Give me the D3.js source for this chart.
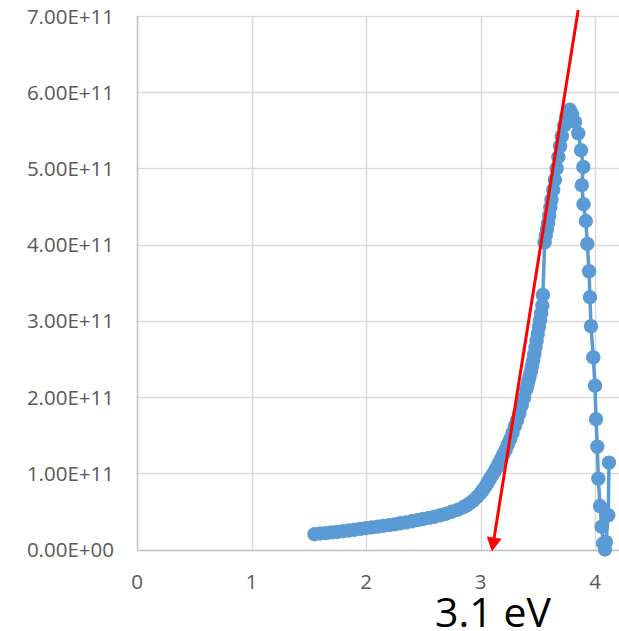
<!DOCTYPE html>
<html>
<head>
<meta charset="utf-8">
<script src="https://cdn.jsdelivr.net/npm/d3@7"></script>
<style>
  html, body { margin: 0; padding: 0; background: #fff; }
  svg { display: block; }
</style>
</head>
<body>
<svg id="chart" width="619" height="631"></svg>
<script>
// Photon energy (eV) and intensity (x 1e11) of the measured spectrum
const energy = [
  1.55, 1.60, 1.65, 1.70, 1.75, 1.80, 1.85, 1.90, 1.95, 2.00,
  2.05, 2.10, 2.15, 2.20, 2.25, 2.30, 2.35, 2.40, 2.45, 2.50,
  2.55, 2.60, 2.65, 2.70, 2.75, 2.80, 2.85, 2.88, 2.91, 2.94,
  2.97, 3.00, 3.02, 3.04, 3.06, 3.08, 3.10, 3.12, 3.14, 3.16,
  3.18, 3.20, 3.22, 3.24, 3.26, 3.28, 3.30, 3.32, 3.34, 3.36,
  3.38, 3.40, 3.41, 3.42, 3.43, 3.44, 3.45, 3.46, 3.47, 3.48,
  3.49, 3.50, 3.51, 3.52, 3.53, 3.54, 3.545,
  3.56, 3.57, 3.58, 3.59, 3.60, 3.61, 3.62, 3.635, 3.65, 3.665,
  3.68, 3.695, 3.71, 3.73, 3.75, 3.765, 3.78,
  3.80, 3.825, 3.854, 3.878, 3.898, 3.885, 3.90, 3.92, 3.933, 3.948,
  3.956, 3.965, 3.985, 4.00, 4.009, 4.02, 4.029, 4.044, 4.058, 4.072,
  4.087, 4.095, 4.116, 4.122
];
const intensity = [
  0.20, 0.21, 0.215, 0.225, 0.23, 0.24, 0.25, 0.26, 0.27, 0.28,
  0.29, 0.30, 0.31, 0.32, 0.33, 0.345, 0.355, 0.37, 0.385, 0.40,
  0.415, 0.43, 0.45, 0.47, 0.495, 0.52, 0.555, 0.58, 0.61, 0.645,
  0.69, 0.74, 0.78, 0.82, 0.87, 0.92, 0.97, 1.02, 1.07, 1.13,
  1.19, 1.25, 1.31, 1.38, 1.45, 1.53, 1.62, 1.70, 1.79, 1.89,
  1.99, 2.10, 2.16, 2.22, 2.28, 2.34, 2.41, 2.48, 2.56, 2.65,
  2.74, 2.83, 2.92, 3.01, 3.10, 3.20, 3.34,
  4.03, 4.12, 4.20, 4.28, 4.38, 4.49, 4.59, 4.72, 4.85, 5.00,
  5.15, 5.29, 5.42, 5.56, 5.68, 5.74, 5.77,
  5.71, 5.61, 5.46, 5.24, 5.02, 4.78, 4.53, 4.31, 4.01, 3.65,
  3.31, 2.93, 2.52, 2.15, 1.71, 1.35, 0.93, 0.57, 0.30, 0.08,
  0.00, 0.10, 0.45, 1.14
].map(v => v * 1e11);

const xTicks = [0, 1, 2, 3, 4];
const yTicks = [0, 1e11, 2e11, 3e11, 4e11, 5e11, 6e11, 7e11];

// Tangent to the absorption edge: crosses zero at the band-gap energy
const gapEnergy = 3.1;
const tangentTop = [3.853, 7.08e11];
const gapLabel = "3.1 eV";

const svg = d3.select("#chart");
const x = d3.scaleLinear().domain([0, 4.5]).range([137, 652.25]);
const y = d3.scaleLinear().domain([0, 7e11]).range([549.5, 16]);
const plotRight = 619;

const font = "'Open Sans', 'Noto Sans', sans-serif";

// Gridlines
svg.append("g").selectAll("line.h").data(yTicks.slice(1)).join("line")
  .attr("x1", x(0)).attr("x2", plotRight)
  .attr("y1", d => Math.round(y(d)) + 0.5).attr("y2", d => Math.round(y(d)) + 0.5)
  .attr("stroke", "#d9d9d9").attr("stroke-width", 1.5);
svg.append("g").selectAll("line.v").data(xTicks.slice(1)).join("line")
  .attr("x1", d => Math.round(x(d)) + 0.5).attr("x2", d => Math.round(x(d)) + 0.5)
  .attr("y1", y(7e11)).attr("y2", y(0))
  .attr("stroke", "#d9d9d9").attr("stroke-width", 1.5);

// Axis lines
svg.append("line")
  .attr("x1", Math.round(x(0)) + 0.5).attr("x2", Math.round(x(0)) + 0.5)
  .attr("y1", y(7e11)).attr("y2", y(0))
  .attr("stroke", "#bfbfbf").attr("stroke-width", 1.5);
svg.append("line")
  .attr("x1", x(0)).attr("x2", plotRight)
  .attr("y1", Math.round(y(0)) + 0.5).attr("y2", Math.round(y(0)) + 0.5)
  .attr("stroke", "#bfbfbf").attr("stroke-width", 1.5);

// Tick labels
const fmtY = d => {
  const e = d === 0 ? 0 : Math.floor(Math.log10(d));
  const m = d === 0 ? 0 : d / Math.pow(10, e);
  return m.toFixed(2) + "E+" + String(e).padStart(2, "0");
};
svg.append("g").selectAll("text").data(yTicks).join("text")
  .attr("x", 114).attr("y", d => y(d) + 7.5)
  .attr("text-anchor", "end")
  .attr("font-family", font).attr("font-size", 20.5)
  .attr("fill", "#595959")
  .text(fmtY);
svg.append("g").selectAll("text").data(xTicks).join("text")
  .attr("x", d => x(d)).attr("y", 589)
  .attr("text-anchor", "middle")
  .attr("font-family", font).attr("font-size", 20.5)
  .attr("fill", "#595959")
  .text(d => d);

// Series: connecting line and circular markers
const pts = energy.map((e, i) => [e, intensity[i]]);
svg.append("path")
  .datum(pts)
  .attr("d", d3.line().x(d => x(d[0])).y(d => y(d[1])))
  .attr("fill", "none")
  .attr("stroke", "#5b9bd5")
  .attr("stroke-width", 3.5)
  .attr("stroke-linejoin", "round");
svg.append("g").selectAll("circle").data(pts).join("circle")
  .attr("cx", d => x(d[0])).attr("cy", d => y(d[1]))
  .attr("r", 7.2)
  .attr("fill", "#5b9bd5");

// Tangent arrow down to the band gap
const x0 = x(tangentTop[0]), y0 = y(tangentTop[1]);
const x1 = x(gapEnergy), y1 = y(0) + 2;
const ang = Math.atan2(y1 - y0, x1 - x0);
const headLen = 14, headHalf = 7.5;
const bx = x1 - headLen * Math.cos(ang), by = y1 - headLen * Math.sin(ang);
svg.append("line")
  .attr("x1", x0).attr("y1", y0).attr("x2", bx).attr("y2", by)
  .attr("stroke", "#ff0000").attr("stroke-width", 3);
svg.append("path")
  .attr("d", d3.line()([
    [x1, y1],
    [bx + headHalf * Math.sin(ang), by - headHalf * Math.cos(ang)],
    [bx - headHalf * Math.sin(ang), by + headHalf * Math.cos(ang)]
  ]) + "Z")
  .attr("fill", "#ff0000");

// Band-gap label
svg.append("text")
  .attr("x", 493).attr("y", 627)
  .attr("text-anchor", "middle")
  .attr("font-family", font).attr("font-size", 41)
  .attr("fill", "#000")
  .text(gapLabel);
</script>
</body>
</html>
